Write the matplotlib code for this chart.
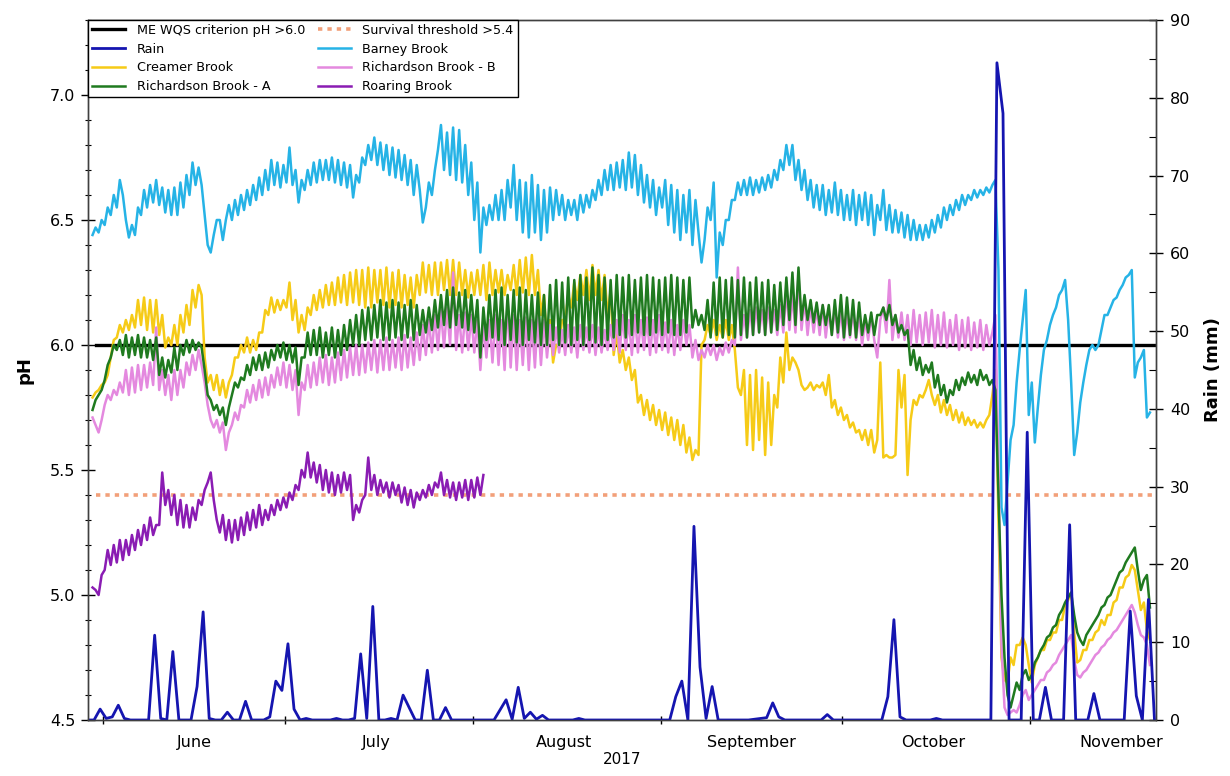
import numpy as np
import pandas as pd
import matplotlib
matplotlib.use("Agg")
import matplotlib.pyplot as plt
import matplotlib.dates as mdates
from matplotlib.ticker import MultipleLocator, FormatStrFormatter, NullFormatter

plt.rcParams['font.family'] = ['DejaVu Sans']

# pH loggers, one reading every 12 h (06:00 / 18:00) starting 30 May 2017
# one line = one week
ph_start = "2017-05-30 06:00"

barney = """
6.44 6.47 6.45 6.50 6.48 6.55 6.52 6.60 6.55 6.66 6.60 6.50 6.43 6.48
6.44 6.55 6.52 6.62 6.55 6.64 6.57 6.66 6.56 6.63 6.53 6.62 6.52 6.63
6.52 6.65 6.55 6.68 6.60 6.73 6.64 6.71 6.64 6.52 6.40 6.37 6.44 6.50
6.50 6.42 6.50 6.56 6.50 6.58 6.52 6.60 6.54 6.62 6.56 6.64 6.58 6.67
6.60 6.70 6.62 6.74 6.64 6.73 6.63 6.72 6.65 6.79 6.64 6.70 6.57 6.66
6.62 6.70 6.64 6.73 6.65 6.74 6.66 6.74 6.66 6.75 6.65 6.74 6.64 6.73
6.63 6.72 6.59 6.68 6.65 6.75 6.72 6.80 6.74 6.83 6.72 6.81 6.70 6.80
6.68 6.79 6.67 6.78 6.66 6.76 6.64 6.74 6.60 6.72 6.62 6.49 6.55 6.65
6.60 6.70 6.78 6.88 6.70 6.85 6.68 6.87 6.66 6.86 6.65 6.80 6.60 6.73
6.50 6.65 6.37 6.55 6.48 6.56 6.50 6.60 6.50 6.62 6.50 6.66 6.55 6.72
6.50 6.66 6.45 6.65 6.43 6.68 6.45 6.64 6.42 6.62 6.45 6.63 6.50 6.62
6.52 6.60 6.50 6.58 6.52 6.58 6.50 6.60 6.53 6.60 6.55 6.62 6.58 6.66
6.60 6.70 6.62 6.72 6.62 6.73 6.63 6.74 6.62 6.77 6.63 6.76 6.60 6.72
6.57 6.68 6.55 6.66 6.52 6.63 6.55 6.66 6.48 6.64 6.45 6.62 6.42 6.60
6.45 6.62 6.40 6.58 6.45 6.33 6.42 6.55 6.50 6.65 6.27 6.45 6.40 6.50
6.50 6.58 6.58 6.65 6.60 6.66 6.60 6.67 6.60 6.66 6.61 6.67 6.62 6.68
6.63 6.70 6.66 6.74 6.70 6.80 6.72 6.80 6.66 6.74 6.62 6.70 6.58 6.66
6.55 6.64 6.54 6.64 6.52 6.62 6.53 6.65 6.52 6.62 6.50 6.60 6.50 6.62
6.48 6.60 6.50 6.61 6.48 6.60 6.44 6.56 6.50 6.62 6.46 6.56 6.45 6.54
6.45 6.53 6.43 6.52 6.42 6.50 6.42 6.48 6.42 6.48 6.43 6.50 6.45 6.52
6.47 6.55 6.50 6.56 6.52 6.58 6.54 6.60 6.56 6.60 6.58 6.62 6.59 6.62
6.60 6.63 6.61 6.64 6.66 6.30 5.35 5.28 5.45 5.62 5.68 5.85 5.98 6.10
6.22 5.72 5.85 5.61 5.75 5.88 5.98 6.02 6.08 6.12 6.15 6.20 6.22 6.26
6.10 5.85 5.56 5.65 5.77 5.85 5.92 5.98 6.00 5.98 6.00 6.06 6.12 6.12
6.15 6.18 6.19 6.22 6.24 6.27 6.28 6.30 5.87 5.93 5.95 5.98 5.71 5.73
"""

creamer = """
5.79 5.81 5.82 5.84 5.85 5.88 5.95 6.02 6.03 6.08 6.05 6.10 6.06 6.12
6.07 6.18 6.08 6.19 6.06 6.18 6.05 6.18 6.04 6.12 5.99 6.03 6.00 6.08
6.00 6.12 6.05 6.16 6.08 6.22 6.15 6.24 6.20 5.95 5.85 5.88 5.82 5.88
5.80 5.86 5.79 5.85 5.88 5.95 5.95 6.00 5.97 6.03 5.97 6.02 5.98 6.05
6.05 6.14 6.12 6.19 6.13 6.18 6.14 6.18 6.15 6.25 6.10 6.18 6.05 6.12
6.06 6.15 6.12 6.20 6.14 6.22 6.15 6.24 6.16 6.25 6.16 6.27 6.17 6.28
6.16 6.29 6.17 6.30 6.16 6.30 6.15 6.31 6.15 6.30 6.17 6.30 6.16 6.31
6.15 6.29 6.16 6.30 6.15 6.28 6.16 6.27 6.15 6.28 6.20 6.33 6.21 6.32
6.20 6.33 6.20 6.33 6.22 6.34 6.20 6.34 6.20 6.33 6.20 6.30 6.19 6.29
6.20 6.30 6.20 6.32 6.18 6.33 6.20 6.30 6.21 6.30 6.20 6.28 6.22 6.32
6.20 6.34 6.21 6.35 6.20 6.36 6.20 6.30 6.12 6.20 6.00 6.10 5.93 6.00
6.00 6.10 6.10 6.20 6.15 6.25 6.18 6.28 6.20 6.30 6.18 6.32 6.20 6.30
6.18 6.28 6.12 6.22 5.96 6.05 5.93 5.98 5.90 5.95 5.86 5.90 5.77 5.80
5.72 5.78 5.70 5.76 5.68 5.74 5.66 5.73 5.64 5.71 5.62 5.70 5.60 5.68
5.57 5.63 5.54 5.58 5.56 6.00 6.02 6.08 6.04 6.10 6.02 6.08 6.03 6.10
6.02 6.08 5.98 5.83 5.80 5.90 5.60 5.88 5.58 5.90 5.62 5.87 5.56 5.85
5.60 5.80 5.75 5.95 5.85 6.05 5.90 5.95 5.93 5.90 5.84 5.82 5.83 5.85
5.82 5.84 5.83 5.85 5.80 5.88 5.75 5.78 5.72 5.75 5.70 5.72 5.67 5.69
5.65 5.66 5.62 5.66 5.60 5.66 5.57 5.62 5.93 5.55 5.56 5.55 5.55 5.56
5.90 5.75 5.88 5.48 5.70 5.78 5.76 5.80 5.79 5.82 5.86 5.80 5.76 5.80
5.73 5.78 5.72 5.76 5.70 5.74 5.69 5.73 5.68 5.71 5.68 5.70 5.67 5.69
5.67 5.70 5.72 5.80 5.90 5.30 4.75 4.66 4.65 4.75 4.72 4.80 4.80 4.83
4.80 4.72 4.65 4.72 4.75 4.78 4.78 4.82 4.82 4.85 4.85 4.90 4.90 4.96
4.98 5.01 4.85 4.73 4.74 4.78 4.78 4.82 4.82 4.85 4.86 4.90 4.88 4.92
4.92 4.97 4.98 5.03 5.03 5.07 5.08 5.12 5.10 5.02 4.94 4.97 4.86 4.82
"""

richardson_a = """
5.74 5.78 5.80 5.82 5.86 5.92 5.95 6.00 5.98 6.02 5.96 6.04 5.95 6.03
5.96 6.04 5.95 6.03 5.95 6.02 5.94 6.03 5.88 5.95 5.87 5.94 5.89 5.99
5.90 6.00 5.96 6.02 5.97 6.02 5.98 6.01 5.99 5.90 5.80 5.78 5.74 5.76
5.72 5.75 5.68 5.75 5.80 5.85 5.83 5.87 5.86 5.92 5.88 5.95 5.90 5.96
5.90 5.97 5.91 5.98 5.94 6.00 5.95 6.01 5.94 6.00 5.93 5.99 5.84 5.95
5.95 6.05 5.96 6.06 5.96 6.07 5.95 6.05 5.96 6.07 5.95 6.06 5.96 6.08
5.98 6.10 6.00 6.12 6.00 6.14 6.02 6.15 6.02 6.16 6.03 6.18 6.02 6.17
6.02 6.18 6.03 6.17 6.02 6.16 6.03 6.18 6.02 6.16 6.04 6.14 6.05 6.15
6.06 6.18 6.07 6.20 6.08 6.22 6.07 6.23 6.08 6.21 6.07 6.22 6.06 6.20
6.05 6.18 5.95 6.15 6.02 6.20 6.03 6.22 6.02 6.23 6.00 6.20 6.02 6.22
6.01 6.23 6.00 6.22 6.02 6.20 6.01 6.21 6.00 6.20 6.00 6.24 6.02 6.26
6.00 6.25 6.01 6.27 6.00 6.26 6.02 6.28 6.00 6.27 6.02 6.31 6.01 6.28
6.00 6.27 6.02 6.26 6.03 6.28 6.04 6.27 6.03 6.28 6.04 6.26 6.05 6.27
6.04 6.28 6.04 6.27 6.05 6.26 6.04 6.27 6.05 6.28 6.04 6.27 6.04 6.26
6.05 6.27 6.07 6.14 6.08 6.12 6.06 6.18 6.03 6.25 6.04 6.27 6.03 6.26
6.04 6.27 6.03 6.26 6.04 6.27 6.03 6.25 6.04 6.27 6.05 6.25 6.04 6.26
6.05 6.24 6.06 6.25 6.08 6.27 6.10 6.29 6.08 6.31 6.10 6.20 6.10 6.18
6.09 6.17 6.08 6.16 6.08 6.16 6.04 6.18 6.05 6.20 6.03 6.19 6.04 6.18
6.03 6.17 6.04 6.12 6.05 6.13 6.04 6.12 6.12 6.15 6.10 6.16 6.08 6.12
6.05 6.08 6.04 6.06 5.92 5.98 5.90 5.95 5.88 5.92 5.89 5.93 5.83 5.88
5.80 5.84 5.77 5.82 5.80 5.86 5.82 5.87 5.84 5.89 5.85 5.88 5.84 5.90
5.86 5.88 5.84 5.86 5.82 5.40 5.00 4.75 4.60 4.55 4.60 4.65 4.62 4.68
4.70 4.66 4.68 4.73 4.75 4.78 4.80 4.83 4.84 4.87 4.88 4.92 4.94 4.97
4.99 5.01 4.92 4.85 4.82 4.80 4.84 4.86 4.88 4.90 4.92 4.95 4.96 4.99
5.00 5.03 5.06 5.09 5.10 5.13 5.15 5.17 5.19 5.10 5.02 5.06 5.08 4.95
"""

richardson_b = """
5.71 5.68 5.65 5.70 5.76 5.80 5.78 5.82 5.80 5.85 5.81 5.90 5.80 5.91
5.81 5.92 5.82 5.92 5.83 5.93 5.84 6.07 5.82 5.90 5.80 5.88 5.78 5.90
5.80 5.90 5.83 5.93 5.88 5.96 5.90 5.98 5.92 5.85 5.76 5.70 5.67 5.70
5.65 5.69 5.58 5.65 5.68 5.73 5.70 5.76 5.75 5.82 5.77 5.84 5.78 5.86
5.79 5.87 5.80 5.88 5.83 5.91 5.84 5.93 5.83 5.92 5.82 5.90 5.72 5.85
5.82 5.92 5.83 5.93 5.84 5.95 5.85 5.96 5.84 5.95 5.85 5.97 5.86 5.98
5.87 5.99 5.88 6.00 5.88 6.00 5.89 6.01 5.90 6.02 5.89 6.02 5.90 6.03
5.90 6.02 5.91 6.03 5.90 6.04 5.91 6.03 5.92 6.05 5.94 6.08 5.96 6.10
5.97 6.12 5.98 6.14 5.99 6.15 6.00 6.29 5.98 6.12 5.97 6.13 5.98 6.12
5.97 6.10 5.90 6.08 5.95 6.10 5.93 6.12 5.92 6.10 5.90 6.18 5.91 6.12
5.90 6.10 5.92 6.11 5.90 6.10 5.91 6.12 5.92 6.10 5.95 6.08 5.96 6.07
5.97 6.06 5.96 6.08 5.97 6.07 5.95 6.08 5.98 6.07 5.97 6.08 5.96 6.07
5.97 6.06 5.98 6.08 5.98 6.10 5.97 6.12 5.98 6.10 5.96 6.12 5.97 6.10
5.98 6.11 5.96 6.10 5.97 6.12 5.98 6.09 5.97 6.10 5.96 6.08 5.98 6.10
6.00 6.08 5.95 6.02 5.94 5.98 5.95 6.00 5.96 6.00 5.94 5.99 5.96 6.01
5.97 6.02 6.00 6.31 6.02 6.12 6.03 6.14 6.04 6.15 6.05 6.14 6.04 6.15
6.05 6.14 6.04 6.16 6.05 6.22 6.06 6.20 6.05 6.28 6.06 6.18 6.04 6.16
6.05 6.15 6.04 6.16 6.03 6.14 6.04 6.15 6.03 6.14 6.02 6.13 6.03 6.14
6.02 6.12 6.00 6.10 6.02 6.12 6.02 5.95 6.10 6.15 6.05 6.26 6.02 6.12
6.03 6.13 6.02 6.12 6.00 6.14 6.01 6.12 6.00 6.13 6.01 6.14 5.99 6.12
6.00 6.13 5.99 6.10 6.00 6.12 5.98 6.10 5.99 6.11 5.98 6.09 5.99 6.10
5.98 6.08 6.00 6.05 6.12 5.50 4.80 4.55 4.52 4.53 4.54 4.53 4.56 4.60
4.62 4.58 4.60 4.62 4.64 4.66 4.66 4.69 4.70 4.72 4.73 4.76 4.78 4.80
4.82 4.84 4.74 4.68 4.67 4.69 4.70 4.72 4.74 4.76 4.77 4.79 4.80 4.82
4.83 4.85 4.86 4.88 4.90 4.92 4.94 4.96 4.93 4.88 4.84 4.83 4.80 4.72
"""

roaring = """
5.03 5.02 5.00 5.08 5.10 5.18 5.12 5.20 5.13 5.22 5.14 5.22 5.16 5.24
5.18 5.26 5.20 5.28 5.22 5.31 5.24 5.28 5.28 5.49 5.36 5.42 5.32 5.40
5.28 5.38 5.27 5.36 5.27 5.35 5.30 5.38 5.36 5.42 5.45 5.49 5.38 5.30
5.25 5.32 5.22 5.30 5.21 5.30 5.22 5.31 5.24 5.33 5.26 5.34 5.27 5.36
5.28 5.34 5.30 5.36 5.32 5.38 5.34 5.39 5.35 5.41 5.38 5.44 5.42 5.50
5.47 5.57 5.47 5.53 5.45 5.52 5.42 5.50 5.41 5.49 5.40 5.48 5.41 5.49
5.42 5.48 5.30 5.36 5.33 5.38 5.40 5.55 5.42 5.48 5.40 5.46 5.41 5.45
5.39 5.45 5.40 5.44 5.37 5.43 5.36 5.42 5.35 5.41 5.38 5.42 5.39 5.44
5.40 5.45 5.43 5.49 5.40 5.46 5.39 5.45 5.38 5.45 5.39 5.46 5.38 5.46
5.39 5.47 5.40 5.48
"""

# daily rain totals (mm), 29 May - 21 Nov 2017
rain_start = "2017-05-29 12:00"
rain_mm = """
0 0 1.4 0.2 0.4 1.9 0.2
0 0 0 0 10.9 0.2 0
8.8 0 0 0 4.3 13.9 0.2
0 0 1.0 0 0 2.4 0
0 0 0.4 5.0 3.8 9.8 1.4
0 0.2 0 0 0 0 0.2
0 0 0.2 8.5 0.2 14.6 0
0 0.2 0 3.2 1.6 0 0
6.4 0 0 1.6 0 0 0
0 0 0 0 0 1.3 2.6
0.1 4.2 0.2 1.0 0.1 0.6 0
0 0 0 0 0.2 0 0
0 0 0 0 0 0 0
0 0 0 0 0 0 3.0
5.0 0 24.9 6.8 0.2 4.3 0
0 0 0 0 0 0.1 0.2
0.3 2.2 0.4 0 0 0 0
0 0 0 0.7 0 0 0
0 0 0 0 0 0 3.0
12.9 0.4 0 0 0 0 0
0.2 0 0 0 0 0 0
0 0 0 84.5 78.0 0 0
0 37.0 0 0 4.2 0 0
0 25.1 0 0 0 3.4 0
0 0 0 0 14.0 3.1 0
15.5 0
"""

criterion_ph = 6.0
survival_ph = 5.4
ref_span = ["2017-05-30 18:00", "2017-11-22 00:00"]


def readings(text):
    return np.array(text.split(), dtype=float)


def stamps(values, start, freq):
    return pd.date_range(start, periods=len(values), freq=freq)


series = [
    ("Barney Brook", readings(barney), "#26b3e6"),
    ("Creamer Brook", readings(creamer), "#f6cb17"),
    ("Richardson Brook - B", readings(richardson_b), "#e489df"),
    ("Richardson Brook - A", readings(richardson_a), "#1f7a1f"),
    ("Roaring Brook", readings(roaring), "#8a1cb3"),
]
rain = readings(rain_mm)

fig = plt.figure(figsize=(12.3, 7.76), dpi=100)
ax = fig.add_axes([88 / 1230, 1 - 720 / 776, (1156 - 88) / 1230, 700 / 776])
ax2 = ax.twinx()

span = pd.to_datetime(ref_span)
crit, = ax.plot(span, [criterion_ph] * 2, color="black", lw=2.4, zorder=1.5,
                label="ME WQS criterion pH >6.0")
surv, = ax.plot(span, [survival_ph] * 2, color="#f2a07a", lw=2.6,
                dashes=(1.2, 1.4), zorder=1.6, label="Survival threshold >5.4")

lines = {}
for i, (name, vals, col) in enumerate(series):
    ln, = ax.plot(stamps(vals, ph_start, "12h"), vals, color=col, lw=1.8,
                  zorder=2 + i * 0.1, label=name)
    lines[name] = ln

rain_ln, = ax2.plot(stamps(rain, rain_start, "D"), rain, color="#1515b0",
                    lw=2.0, label="Rain")

# axes limits and ticks
ax.set_xlim(pd.Timestamp("2017-05-29 12:00"), pd.Timestamp("2017-11-21 18:00"))
ax.set_ylim(4.5, 7.3)
ax2.set_ylim(0, 90)

ax.xaxis.set_major_locator(mdates.MonthLocator())
ax.xaxis.set_major_formatter(NullFormatter())
ax.xaxis.set_minor_locator(mdates.MonthLocator(bymonthday=16))
ax.xaxis.set_minor_formatter(mdates.DateFormatter("%B"))
ax.tick_params(axis="x", which="major", direction="inout", length=6, width=1)
ax.tick_params(axis="x", which="minor", length=0, labelsize=11.5, pad=11)

ax.yaxis.set_major_locator(MultipleLocator(0.5))
ax.yaxis.set_minor_locator(MultipleLocator(0.1))
ax.yaxis.set_major_formatter(FormatStrFormatter("%.1f"))
ax.tick_params(axis="y", which="major", direction="inout", length=10,
               width=1, labelsize=11.5, pad=4)
ax.tick_params(axis="y", which="minor", direction="inout", length=5, width=0.8)

ax2.yaxis.set_major_locator(MultipleLocator(10))
ax2.yaxis.set_minor_locator(MultipleLocator(5))
ax2.tick_params(axis="y", which="major", direction="inout", length=10,
                width=1, labelsize=11.5, pad=5)
ax2.tick_params(axis="y", which="minor", direction="in", length=5, width=0.8)

for a in (ax, ax2):
    for sp in a.spines.values():
        sp.set_color("#404040")
        sp.set_linewidth(1.0)

ax.set_xlabel("2017", fontsize=11, labelpad=1)
ax.set_ylabel("pH", fontsize=13, fontweight="bold", labelpad=12)
ax2.set_ylabel("Rain (mm)", fontsize=13, fontweight="bold", labelpad=10)

handles = [crit, rain_ln, lines["Creamer Brook"], lines["Richardson Brook - A"],
           surv, lines["Barney Brook"], lines["Richardson Brook - B"],
           lines["Roaring Brook"]]
leg = ax2.legend(handles=handles, labels=[h.get_label() for h in handles],
                 loc="upper left", bbox_to_anchor=(0, 1), borderaxespad=0,
                 ncol=2, fontsize=9.2, frameon=True, fancybox=False,
                 edgecolor="black", framealpha=1, handlelength=2.6,
                 handletextpad=0.9, columnspacing=1.0, labelspacing=0.45,
                 borderpad=0.3)
leg.get_frame().set_linewidth(1.0)

fig.savefig("out.png", dpi=100)
